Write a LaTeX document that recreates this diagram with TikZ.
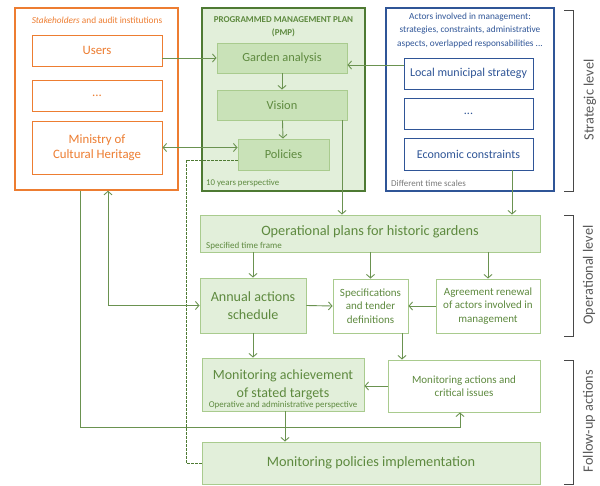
\documentclass[tikz,border=0pt]{standalone}
\usepackage{fontspec}
\setmainfont{Carlito}
\usetikzlibrary{arrows.meta}
\definecolor{orng}{HTML}{ED7D31}
\definecolor{gtext}{HTML}{5E8A3F}
\definecolor{gline}{HTML}{6A9250}
\definecolor{gdark}{HTML}{4E7A33}
\definecolor{gborder}{HTML}{A9CB8E}
\definecolor{gfill}{HTML}{E2EFDA}
\definecolor{gfillm}{HTML}{C9E2B8}
\definecolor{bl}{HTML}{2F5597}
\definecolor{gry}{HTML}{595959}
\tikzset{
  every node/.style={inner sep=0pt, align=center},
  obox/.style={draw=orng, line width=0.9pt, fill=white, text=orng, font=\fontsize{12.8}{15}\selectfont},
  bbox/.style={draw=bl, line width=0.9pt, fill=white, text=bl, font=\fontsize{12}{14}\selectfont},
  gbox/.style={draw=gborder, line width=0.9pt, fill=gfillm, text=gtext, font=\fontsize{12.4}{14}\selectfont},
  lbox/.style={draw=gborder, line width=0.9pt, fill=gfill, text=gtext},
  wbox/.style={draw=gborder, line width=0.9pt, fill=white, text=gtext},
  small/.style={font=\fontsize{9}{10}\selectfont},
  arr/.style={draw=gline, line width=0.9pt, -{Straight Barb[length=3.5pt,width=8pt]}},
  darr/.style={draw=gline, line width=0.9pt, {Straight Barb[length=3.5pt,width=8pt]}-{Straight Barb[length=3.5pt,width=8pt]}},
  dline/.style={draw=gdark, line width=0.8pt, dash pattern=on 2.5pt off 1.5pt},
  brack/.style={draw=gry!80!black, line width=1pt},
  lvl/.style={text=gry, font=\fontsize{14.3}{16}\selectfont, rotate=90},
}
\begin{document}
\begin{tikzpicture}[x=1pt,y=-1pt]
\useasboundingbox (0,0) rectangle (600,485);
% stakeholders
\node[draw=orng, line width=1.5pt, minimum width=163, minimum height=182] (stake) at (96.5,99) {};
\node[text=orng, font=\fontsize{9.3}{11}\selectfont] (staket) at (97,20) {\textit{Stakeholders} and audit institutions};
\node[obox, minimum width=130, minimum height=31] (users) at (97,50.5) {Users};
\node[obox, minimum width=130, minimum height=31] (sdots) at (97,95.5) {...};
\node[obox, minimum width=130, minimum height=53] (ministry) at (97,147.5) {Ministry of\\Cultural Heritage};
% PMP
\node[draw=gdark, line width=1.8pt, fill=gfill, minimum width=163, minimum height=183] (pmp) at (283.5,99.5) {};
\node[text=gtext, font=\bfseries\fontsize{9}{13}\selectfont] (pmpt) at (283.5,26.5) {PROGRAMMED MANAGEMENT PLAN\\(PMP)};
\node[gbox, minimum width=130, minimum height=30] (garden) at (282,58) {Garden analysis};
\node[gbox, minimum width=130, minimum height=30] (vision) at (282,105) {Vision};
\node[gbox, minimum width=91, minimum height=31] (policies) at (283.5,154.5) {Policies};
\node[small, text=gtext, font=\fontsize{8.8}{10}\selectfont, anchor=west] (tenyr) at (206,183) {10 years perspective};
% actors
\node[draw=bl, line width=1.2pt, minimum width=168, minimum height=183] (actors) at (470,99.5) {};
\node[text=bl, font=\fontsize{9.3}{13.5}\selectfont] (actorst) at (470,30.5) {Actors involved in management:\\strategies, constraints, administrative\\aspects, overlapped responsabilities ...};
\node[bbox, minimum width=129, minimum height=31] (local) at (468.5,73.5) {Local municipal strategy};
\node[bbox, minimum width=129, minimum height=31] (adots) at (468.5,113.5) {...};
\node[bbox, minimum width=129, minimum height=32] (econ) at (468.5,154) {Economic constraints};
\node[small, text=gry!80, anchor=west] (difft) at (391,183) {Different time scales};
% operational
\node[lbox, minimum width=340, minimum height=37, font=\fontsize{14.3}{16}\selectfont] (opplans) at (370,233.5) {\raisebox{5.5pt}{Operational plans for historic gardens}};
\node[small, text=gtext, anchor=west] (spect) at (206,246.5) {Specified time frame};
\node[lbox, minimum width=106, minimum height=55, font=\fontsize{14.1}{18}\selectfont] (annual) at (253,305.5) {Annual actions\\schedule};
\node[wbox, minimum width=75, minimum height=54, font=\fontsize{11}{13.5}\selectfont] (spec) at (370.5,306) {Specifications\\and tender\\definitions};
\node[wbox, minimum width=104, minimum height=54, font=\fontsize{11}{13.5}\selectfont] (agree) at (488,306) {Agreement renewal\\of actors involved in\\management};
% follow-up
\node[lbox, minimum width=162, minimum height=53, font=\fontsize{14}{18}\selectfont] (monach) at (283,384.5) {\raisebox{3.5pt}{\begin{tabular}{@{}c@{}}Monitoring achievement\\of stated targets\end{tabular}}};
\node[text=gtext, font=\fontsize{8.9}{10}\selectfont] (opadm) at (283,405.5) {Operative and administrative perspective};
\node[wbox, minimum width=152, minimum height=52, font=\fontsize{11}{13.5}\selectfont] (monact) at (464,386) {Monitoring actions and\\critical issues};
\node[lbox, minimum width=338, minimum height=42, font=\fontsize{14.3}{16}\selectfont] (monpol) at (371,463) {Monitoring policies implementation};
% brackets and level labels
\coordinate (b1t) at (564,10); \coordinate (b1b) at (564,191);
\coordinate (b2t) at (564,215); \coordinate (b2b) at (564,336);
\coordinate (b3t) at (564,360); \coordinate (b3b) at (564,484);
\draw[brack] (b1t) -- ++(9,0) |- (b1b);
\draw[brack] (b2t) -- ++(9,0) |- (b2b);
\draw[brack] (b3t) -- ++(9,0) |- (b3b);
\node[lvl] (lv1) at (590,100) {Strategic level};
\node[lvl] (lv2) at (589,275) {Operational level};
\node[lvl] (lv3) at (589,421) {Follow-up actions};
% connectors
\draw[arr] (users.east |- garden.west) -- (garden.west);
\coordinate (lg) at ([yshift=8.5pt]local.west);
\draw[arr] (lg) -- (lg -| garden.east);
\draw[arr] (garden) -- (vision);
\draw[arr] (vision) -- (policies);
\draw[darr] (ministry.east) -- (ministry.east -| policies.west);
\coordinate (pd) at ([yshift=-5.5pt]policies.west);
\coordinate (dashx) at (186,0);
\draw[dline] (pd) -- (pd -| dashx) |- (monpol.west);
\coordinate (vs) at ([xshift=60pt]vision.south);
\draw[arr] (vs) -- (vs |- opplans.north);
\coordinate (es) at ([xshift=43.5pt]econ.south);
\draw[arr] (es) -- (es |- opplans.north);
\draw[arr] (annual.north |- opplans.south) -- (annual.north);
\draw[arr] (spec.north |- opplans.south) -- (spec.north);
\draw[arr] (agree.north |- opplans.south) -- (agree.north);
\draw[arr] (annual.east) -- (spec.west);
\draw[arr] (agree.west) -- (spec.east);
\draw[arr] (annual.south) -- (annual.south |- monach.north);
\coordinate (ss) at ([xshift=31.5pt]spec.south);
\draw[arr] (ss) -- (ss |- monact.north);
\draw[arr] (monact.west) -- (monact.west -| monach.east);
\coordinate (ms) at ([xshift=2pt]monach.south);
\draw[arr] (ms) -- (ms |- monpol.north);
\coordinate (lowrun) at (0,427);
\coordinate (sa) at ([xshift=-16.5pt]stake.south);
\coordinate (ma) at ([xshift=-4pt]monact.south);
\draw[arr] (sa) |- (ma |- lowrun) -- (ma);
\coordinate (sb) at ([xshift=11.5pt]stake.south);
\draw[darr] (sb) |- (annual.west);
\end{tikzpicture}
\end{document}
